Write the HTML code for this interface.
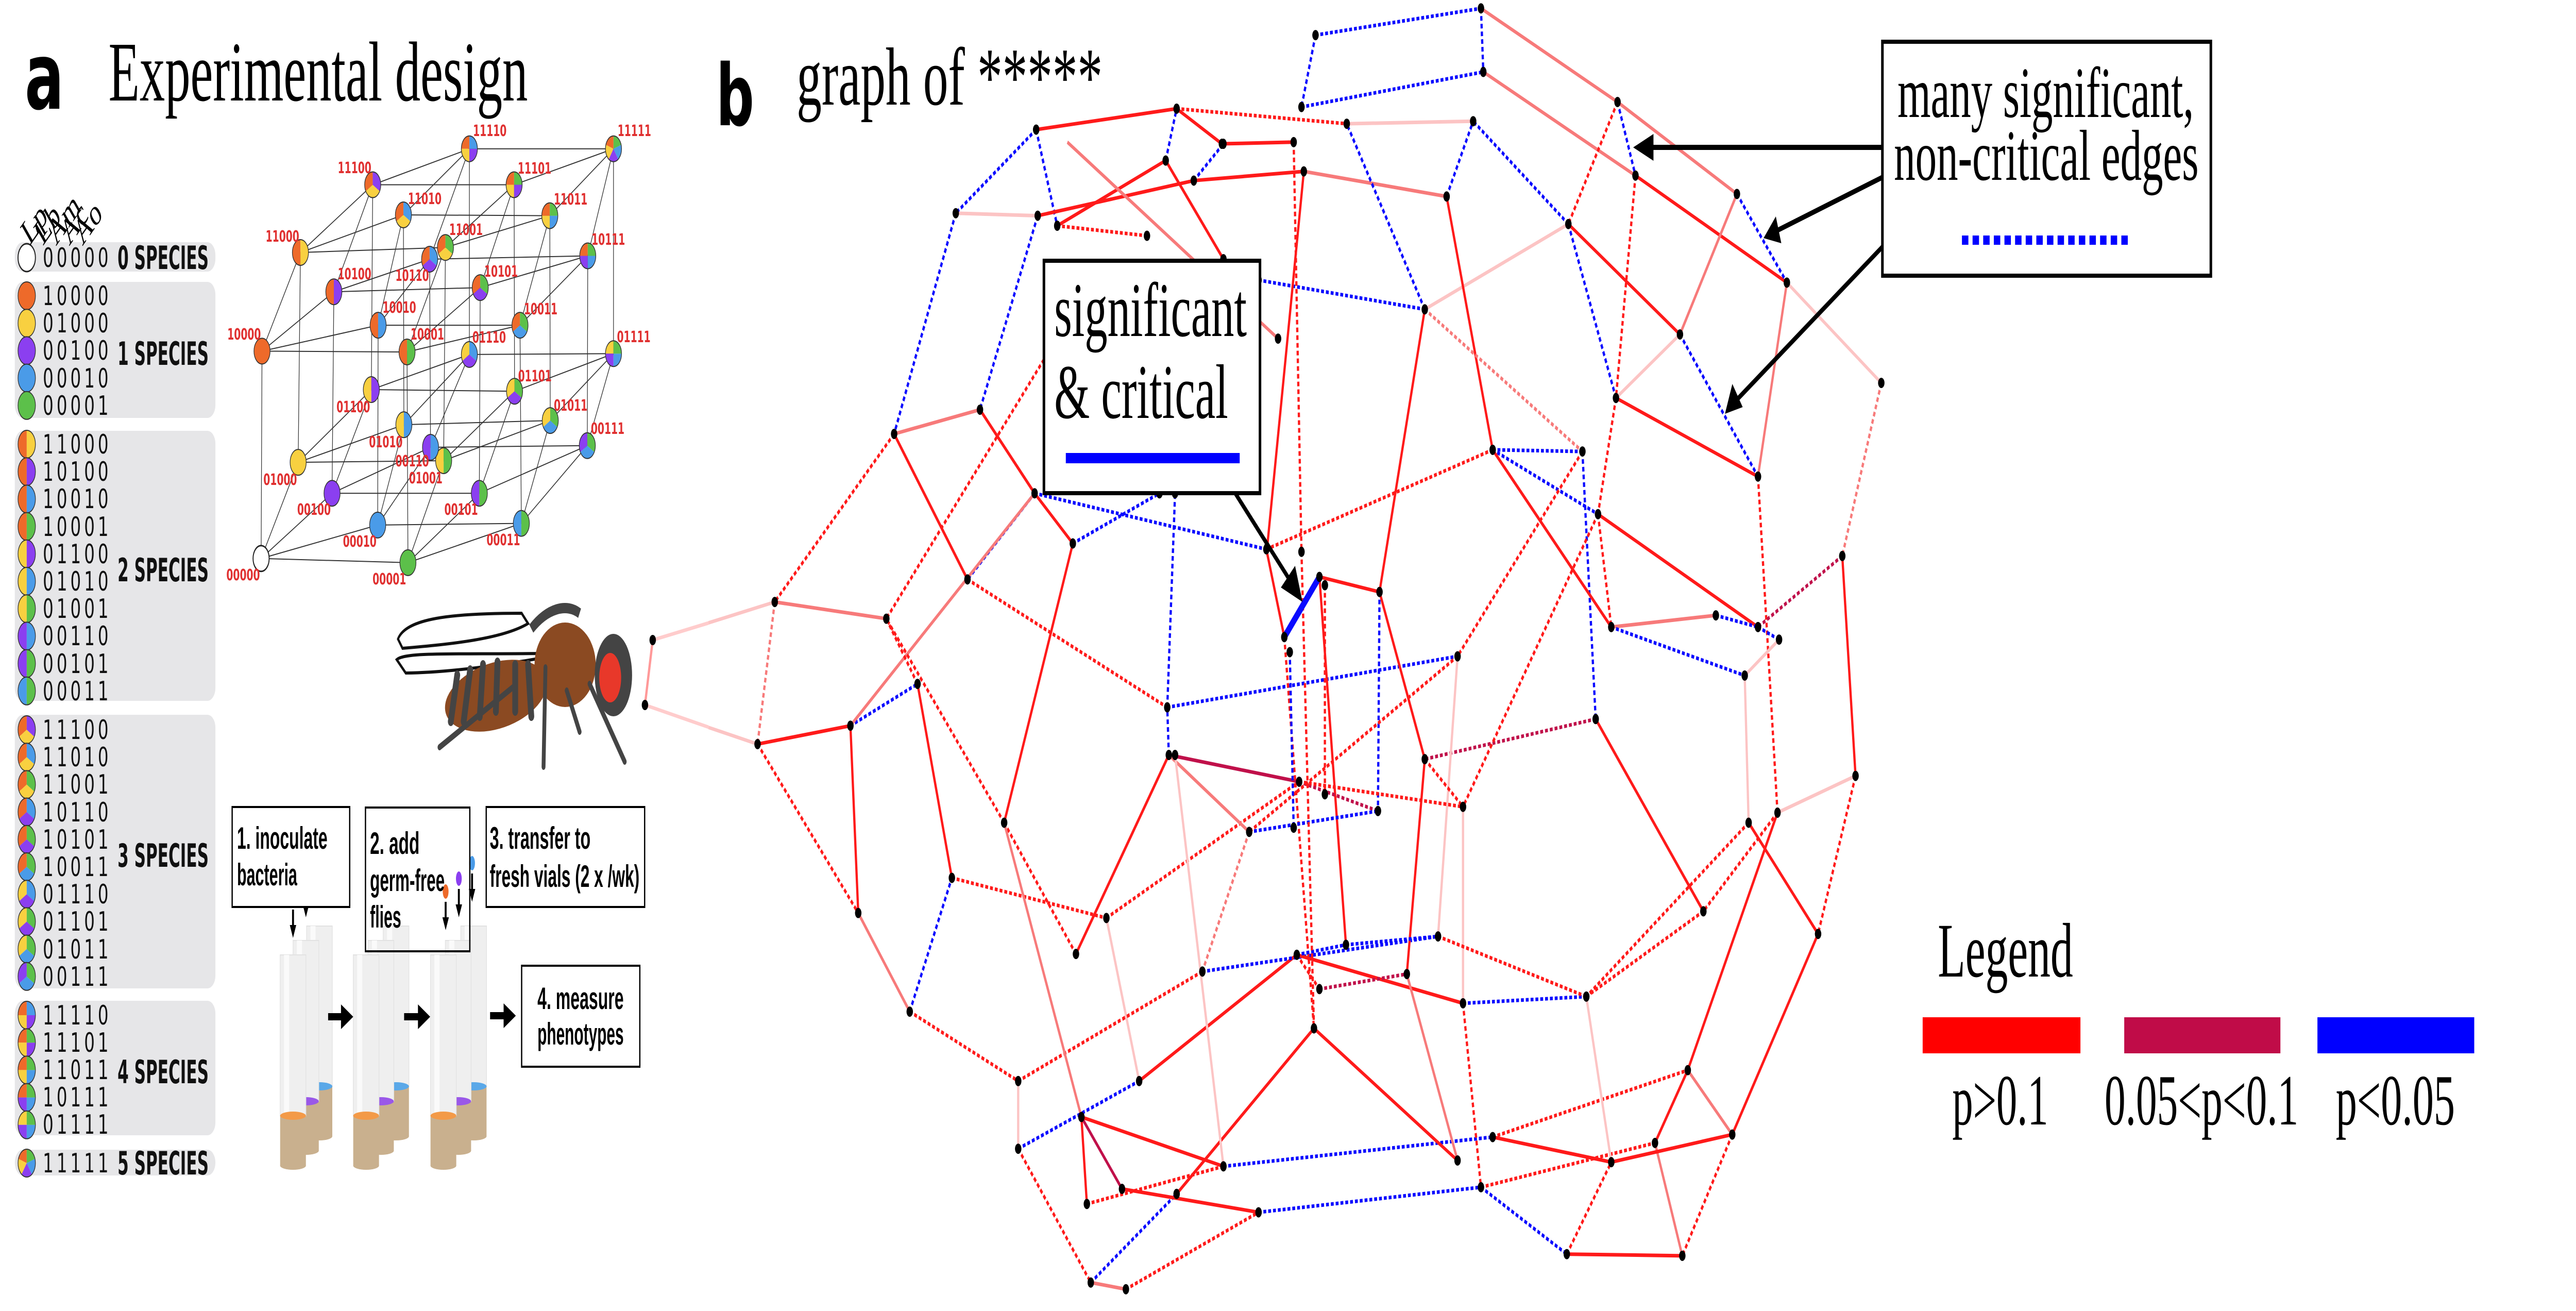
<!DOCTYPE html>
<html><head><meta charset="utf-8"><style>
html,body{margin:0;padding:0;background:#fff;width:100%;height:100%;overflow:hidden;}
svg{display:block;width:100vw;height:100vh;position:absolute;left:0;top:0;}
.sp{font-family:"DejaVu Sans","Liberation Sans",sans-serif;font-weight:bold;font-size:62px;fill:#111;}
.dg{font-family:"DejaVu Sans","Liberation Sans",sans-serif;font-size:52px;fill:#111;}
.cl{font-family:"DejaVu Sans","Liberation Sans",sans-serif;font-weight:bold;font-size:30px;fill:#e03030;}
.bx{font-family:"Liberation Sans",sans-serif;font-weight:bold;font-size:60px;fill:#000;}
.sr{font-family:"Liberation Serif",serif;fill:#000;}
</style></head><body>
<svg id="s" xmlns="http://www.w3.org/2000/svg" viewBox="0 0 8000 2544" preserveAspectRatio="none">
<rect width="8000" height="2544" fill="#fff"/>
<g id="cube"></g>
<g id="graph"></g>
<g id="tbl">
<rect x="46" y="470" width="623" height="57" rx="25" fill="#e6e6e8"/>
<rect x="46" y="547" width="623" height="264" rx="25" fill="#e6e6e8"/>
<rect x="46" y="836" width="623" height="524" rx="25" fill="#e6e6e8"/>
<rect x="46" y="1387" width="623" height="531" rx="25" fill="#e6e6e8"/>
<rect x="46" y="1942" width="623" height="261" rx="25" fill="#e6e6e8"/>
<rect x="46" y="2231" width="623" height="50" rx="25" fill="#e6e6e8"/>
</g>
<g id="pies"></g>
<g class="dg">
<text x="133" y="518" textLength="204" lengthAdjust="spacing">00000</text>
<text x="133" y="592" textLength="204" lengthAdjust="spacing">10000</text>
<text x="133" y="645" textLength="204" lengthAdjust="spacing">01000</text>
<text x="133" y="698" textLength="204" lengthAdjust="spacing">00100</text>
<text x="133" y="752" textLength="204" lengthAdjust="spacing">00010</text>
<text x="133" y="805" textLength="204" lengthAdjust="spacing">00001</text>
<text x="133" y="880" textLength="204" lengthAdjust="spacing">11000</text>
<text x="133" y="933" textLength="204" lengthAdjust="spacing">10100</text>
<text x="133" y="986" textLength="204" lengthAdjust="spacing">10010</text>
<text x="133" y="1040" textLength="204" lengthAdjust="spacing">10001</text>
<text x="133" y="1093" textLength="204" lengthAdjust="spacing">01100</text>
<text x="133" y="1146" textLength="204" lengthAdjust="spacing">01010</text>
<text x="133" y="1199" textLength="204" lengthAdjust="spacing">01001</text>
<text x="133" y="1252" textLength="204" lengthAdjust="spacing">00110</text>
<text x="133" y="1306" textLength="204" lengthAdjust="spacing">00101</text>
<text x="133" y="1359" textLength="204" lengthAdjust="spacing">00011</text>
<text x="133" y="1434" textLength="204" lengthAdjust="spacing">11100</text>
<text x="133" y="1487" textLength="204" lengthAdjust="spacing">11010</text>
<text x="133" y="1540" textLength="204" lengthAdjust="spacing">11001</text>
<text x="133" y="1594" textLength="204" lengthAdjust="spacing">10110</text>
<text x="133" y="1647" textLength="204" lengthAdjust="spacing">10101</text>
<text x="133" y="1700" textLength="204" lengthAdjust="spacing">10011</text>
<text x="133" y="1753" textLength="204" lengthAdjust="spacing">01110</text>
<text x="133" y="1806" textLength="204" lengthAdjust="spacing">01101</text>
<text x="133" y="1860" textLength="204" lengthAdjust="spacing">01011</text>
<text x="133" y="1913" textLength="204" lengthAdjust="spacing">00111</text>
<text x="133" y="1988" textLength="204" lengthAdjust="spacing">11110</text>
<text x="133" y="2041" textLength="204" lengthAdjust="spacing">11101</text>
<text x="133" y="2094" textLength="204" lengthAdjust="spacing">11011</text>
<text x="133" y="2147" textLength="204" lengthAdjust="spacing">10111</text>
<text x="133" y="2200" textLength="204" lengthAdjust="spacing">01111</text>
<text x="133" y="2275" textLength="204" lengthAdjust="spacing">11111</text>
</g>
<g class="sp">
<text x="365" y="522" textLength="283" lengthAdjust="spacingAndGlyphs">0 SPECIES</text>
<text x="365" y="708" textLength="283" lengthAdjust="spacingAndGlyphs">1 SPECIES</text>
<text x="365" y="1128" textLength="283" lengthAdjust="spacingAndGlyphs">2 SPECIES</text>
<text x="365" y="1682" textLength="283" lengthAdjust="spacingAndGlyphs">3 SPECIES</text>
<text x="365" y="2102" textLength="283" lengthAdjust="spacingAndGlyphs">4 SPECIES</text>
<text x="365" y="2279" textLength="283" lengthAdjust="spacingAndGlyphs">5 SPECIES</text>
</g>
<g class="sr" font-size="72">
<text transform="translate(92,478) rotate(-42)">Lp</text>
<text transform="translate(133,478) rotate(-42)">Lb</text>
<text transform="translate(174,478) rotate(-42)">Am</text>
<text transform="translate(215,478) rotate(-42)">Ac</text>
<text transform="translate(256,478) rotate(-42)">Ao</text>
</g>
<text x="77" y="211" font-family="'DejaVu Sans','Liberation Sans',sans-serif" font-weight="bold" font-size="180">a</text>
<text class="sr" x="337" y="195" font-size="165" textLength="1302" lengthAdjust="spacingAndGlyphs">Experimental design</text>
<text x="2224" y="243" font-family="'DejaVu Sans','Liberation Sans',sans-serif" font-weight="bold" font-size="165">b</text>
<text class="sr" x="2474" y="203" font-size="160" textLength="950" lengthAdjust="spacingAndGlyphs">graph of *****</text>
<g class="cl">
<text x="1469" y="264">11110</text><text x="1918" y="264">11111</text>
<text x="1049" y="336">11100</text><text x="1608" y="337">11101</text>
<text x="1267" y="396">11010</text><text x="1720" y="397">11011</text>
<text x="825" y="469">11000</text><text x="1395" y="456">11001</text><text x="1837" y="475">10111</text>
<text x="1049" y="542">10100</text><text x="1228" y="545">10110</text><text x="1504" y="537">10101</text>
<text x="1188" y="607">10010</text><text x="1627" y="610">10011</text>
<text x="706" y="659">10000</text><text x="1275" y="659">10001</text><text x="1467" y="665">01110</text><text x="1916" y="664">01111</text>
<text x="1609" y="740">01101</text><text x="1045" y="800">01100</text><text x="1720" y="797">01011</text>
<text x="1835" y="842">00111</text><text x="1146" y="868">01010</text><text x="1228" y="905">00110</text>
<text x="1270" y="938">01001</text><text x="818" y="941">01000</text><text x="923" y="999">00100</text>
<text x="1380" y="999">00101</text><text x="1065" y="1061">00010</text><text x="1511" y="1058">00011</text>
<text x="703" y="1126">00000</text><text x="1157" y="1134">00001</text>
</g>
<g id="fly">
<path d="M1236,1240 C1260,1200 1400,1190 1620,1190 L1640,1210 C1560,1240 1400,1250 1250,1258 Z" fill="#fff" stroke="#111" stroke-width="6"/>
<path d="M1232,1280 C1260,1265 1400,1270 1690,1268 L1700,1275 C1560,1290 1400,1305 1260,1306 Z" fill="#fff" stroke="#111" stroke-width="6"/>
<ellipse cx="1540" cy="1350" rx="160" ry="65" transform="rotate(-10 1540 1350)" fill="#8b4a22"/>
<g stroke="#444" stroke-width="18" stroke-linecap="round">
<line x1="1420" y1="1310" x2="1400" y2="1400"/><line x1="1460" y1="1300" x2="1440" y2="1400"/>
<line x1="1500" y1="1290" x2="1490" y2="1390"/><line x1="1545" y1="1285" x2="1540" y2="1380"/>
<line x1="1600" y1="1290" x2="1600" y2="1380"/><line x1="1640" y1="1290" x2="1650" y2="1390"/>
</g>
<ellipse cx="1755" cy="1290" rx="95" ry="82" fill="#8b4a22"/>
<path d="M1650,1220 C1700,1180 1760,1170 1800,1190" stroke="#444" stroke-width="20" fill="none"/>
<ellipse cx="1905" cy="1310" rx="58" ry="80" fill="#444"/>
<ellipse cx="1895" cy="1315" rx="34" ry="48" fill="#e8382a"/>
<g stroke="#444" stroke-width="12" stroke-linecap="round" fill="none">
<line x1="1694" y1="1295" x2="1688" y2="1488"/><line x1="1831" y1="1327" x2="1940" y2="1478"/>
<line x1="1365" y1="1450" x2="1600" y2="1330"/><line x1="1760" y1="1340" x2="1800" y2="1420"/>
</g>
</g>
<g id="tubes"></g>
<g fill="#fff" stroke="#000" stroke-width="4">
<rect x="721" y="1566" width="365" height="194"/>
<rect x="1135" y="1567" width="324" height="279" fill="none"/>
<rect x="1510" y="1566" width="492" height="194"/>
<rect x="1620" y="1874" width="367" height="196"/>
</g>
<g class="bx">
<text x="736" y="1647" textLength="281" lengthAdjust="spacingAndGlyphs">1.  inoculate</text>
<text x="736" y="1718" textLength="187" lengthAdjust="spacingAndGlyphs">bacteria</text>
<text x="1149" y="1657" textLength="154" lengthAdjust="spacingAndGlyphs">2.  add</text>
<text x="1149" y="1729" textLength="232" lengthAdjust="spacingAndGlyphs">germ-free</text>
<text x="1149" y="1800" textLength="97" lengthAdjust="spacingAndGlyphs">flies</text>
<text x="1521" y="1647" textLength="313" lengthAdjust="spacingAndGlyphs">3.  transfer to</text>
<text x="1521" y="1721" textLength="465" lengthAdjust="spacingAndGlyphs">fresh vials (2 x /wk)</text>
<text x="1669" y="1958" textLength="268" lengthAdjust="spacingAndGlyphs">4.  measure</text>
<text x="1669" y="2027" textLength="268" lengthAdjust="spacingAndGlyphs">phenotypes</text>
</g>
<rect x="3242" y="506" width="671" height="451" fill="#fff" stroke="#000" stroke-width="8"/>
<text class="sr" x="3274" y="652" font-size="150" textLength="598" lengthAdjust="spacingAndGlyphs">significant</text>
<text class="sr" x="3274" y="811" font-size="150" textLength="540" lengthAdjust="spacingAndGlyphs">&amp; critical</text>
<line x1="3310" y1="889" x2="3850" y2="889" stroke="#0000ff" stroke-width="20"/>
<line x1="3836" y1="957" x2="4010" y2="1130" stroke="#000" stroke-width="10"/>
<polygon points="4045,1168 3978,1140 4022,1098" fill="#000"/>
<rect x="5846" y="81" width="1020" height="454" fill="#fff" stroke="#000" stroke-width="8"/>
<text class="sr" x="5893" y="227" font-size="140" textLength="920" lengthAdjust="spacingAndGlyphs">many significant,</text>
<text class="sr" x="5882" y="349" font-size="140" textLength="946" lengthAdjust="spacingAndGlyphs">non-critical edges</text>
<line x1="6093" y1="466" x2="6616" y2="466" stroke="#0000ff" stroke-width="18" stroke-dasharray="20 13"/>
<g stroke="#000" stroke-width="10">
<line x1="5846" y1="286" x2="5120" y2="286"/>
<line x1="5846" y1="344" x2="5520" y2="447"/>
<line x1="5846" y1="479" x2="5395" y2="775"/>
</g>
<g fill="#000">
<polygon points="5072,286 5135,260 5135,312"/>
<polygon points="5477,462 5515,420 5532,472"/>
<polygon points="5357,803 5380,745 5412,790"/>
</g>
<text class="sr" x="6018" y="1895" font-size="150" textLength="420" lengthAdjust="spacingAndGlyphs">Legend</text>
<rect x="5971" y="1974" width="490" height="70" fill="#ff0000"/>
<rect x="6597" y="1974" width="485" height="70" fill="#c00c48"/>
<rect x="7197" y="1974" width="487" height="70" fill="#0000ff"/>
<g class="sr" font-size="140">
<text x="6063" y="2182" textLength="298" lengthAdjust="spacingAndGlyphs">p&gt;0.1</text>
<text x="6536" y="2182" textLength="602" lengthAdjust="spacingAndGlyphs">0.05&lt;p&lt;0.1</text>
<text x="7254" y="2182" textLength="370" lengthAdjust="spacingAndGlyphs">p&lt;0.05</text>
</g>
</svg>
<script>
(function(){
var NS="http://www.w3.org/2000/svg";
function el(t,a,p){var e=document.createElementNS(NS,t);for(var k in a)e.setAttribute(k,a[k]);p.appendChild(e);return e;}
var COL=["#ee6a2a","#f8d040","#8b3ff0","#4a9be8","#5cc04a"];
function pie(cx,cy,r,code,parent){
  var cs=[];for(var i=0;i<5;i++)if(code[i]=="1")cs.push(COL[i]);
  if(cs.length==0){el("circle",{cx:cx,cy:cy,r:r,fill:"#fff",stroke:"#222","stroke-width":3},parent);return;}
  if(cs.length==1){el("circle",{cx:cx,cy:cy,r:r,fill:cs[0],stroke:"#333","stroke-width":2},parent);return;}
  var n=cs.length;
  for(var j=0;j<n;j++){
    var a0=-Math.PI/2-j*2*Math.PI/n, a1=-Math.PI/2-(j+1)*2*Math.PI/n;
    var d="M"+cx+","+cy+" L"+(cx+r*Math.cos(a0))+","+(cy+r*Math.sin(a0))+" A"+r+","+r+" 0 0 0 "+(cx+r*Math.cos(a1))+","+(cy+r*Math.sin(a1))+" Z";
    el("path",{d:d,fill:cs[j]},parent);
  }
  el("circle",{cx:cx,cy:cy,r:r,fill:"none",stroke:"#333","stroke-width":2},parent);
}
var P=document.getElementById("pies");
var rows=[["00000",500]];
function grp(list,y0){list.forEach(function(c,i){rows.push([c,y0+i*53.2]);});}
grp(["10000","01000","00100","00010","00001"],574);
grp(["11000","10100","10010","10001","01100","01010","01001","00110","00101","00011"],862);
grp(["11100","11010","11001","10110","10101","10011","01110","01101","01011","00111"],1416);
grp(["11110","11101","11011","10111","01111"],1970);
rows.push(["11111",2257]);
rows.forEach(function(r){pie(83,r[1],27,r[0],P);});
var C={"00000":[578,668],"10000":[580,420],"01000":[660,553],"00100":[735,590],"00010":[836,628],"00001":[903,673],
"11000":[665,302],"10100":[739,349],"10010":[837,389],"10001":[901,421],"01100":[822,466],"01010":[894,508],
"01001":[982,551],"00110":[953,535],"00101":[1061,590],"00011":[1154,626],"11100":[825,221],"11010":[893,257],
"11001":[986,296],"10110":[951,310],"10101":[1063,344],"10011":[1151,389],"01110":[1039,424],"01101":[1139,468],
"01011":[1218,503],"00111":[1300,533],"11110":[1039,178],"11101":[1138,221],"11011":[1217,258],"10111":[1301,306],
"01111":[1358,423],"11111":[1358,178]};
var G=document.getElementById("cube");
function cp(k){return [C[k][0]*1.403,C[k][1]*1.6224];}
Object.keys(C).forEach(function(k){
  for(var i=0;i<5;i++){ if(k[i]=="0"){var k2=k.substr(0,i)+"1"+k.substr(i+1);
    var a=cp(k),b=cp(k2);el("line",{x1:a[0],y1:a[1],x2:b[0],y2:b[1],stroke:"#333","stroke-width":2},G);}}
});
Object.keys(C).forEach(function(k){var a=cp(k);pie(a[0],a[1],25,k,G);});
var E=[[778,42,990,10,'B'],[990,10,993,86,'B'],[778,42,760,128,'B'],[760,128,993,86,'B'],
[990,10,1165,122,'P'],[993,86,1188,210,'P'],[1165,122,1318,232,'P'],[1165,122,1188,210,'B'],
[1188,210,1382,338,'R'],[1318,232,1382,338,'B'],[1318,232,1245,400,'P'],[1382,338,1503,458,'L'],
[1382,338,1345,570,'P'],[1503,458,1453,665,'p'],[1245,400,1345,570,'B'],[1245,400,1102,268,'R'],
[1102,268,980,145,'B'],[1102,268,918,370,'L'],[1165,122,1102,268,'r'],[1188,210,1163,476,'r'],
[1163,476,1345,570,'R'],[1163,476,1245,400,'L'],[1163,476,1140,615,'r'],[1102,268,1163,476,'B'],
[1005,538,1140,615,'B'],[1120,540,1137,860,'B'],[1120,540,960,785,'r'],[1140,615,1345,750,'R'],
[1345,570,1370,972,'r'],[1453,665,1345,750,'m'],[1453,665,1470,928,'R'],[1470,928,1370,972,'L'],
[1470,928,1422,1117,'r'],[1345,750,1372,765,'B'],[1291,736,1157,750,'P'],[1291,736,1345,750,'B'],
[1157,750,1328,808,'B'],[1157,750,1005,538,'R'],[1328,808,1372,765,'L'],[1328,808,1333,984,'L'],
[1333,984,1422,1117,'R'],[1333,984,1125,1192,'r'],[1370,972,1275,1090,'r'],[1370,972,1255,1280,'R'],
[1137,860,1275,1090,'R'],[1137,860,918,908,'m'],[1140,615,967,965,'r'],
[420,155,600,130,'R'],[600,130,818,148,'r'],[818,148,980,145,'L'],[600,130,658,172,'R'],[658,172,750,170,'R'],
[420,155,317,255,'B'],[420,155,447,270,'B'],[317,255,422,258,'L'],[317,255,238,519,'B'],
[447,270,586,192,'R'],[586,192,660,310,'R'],[586,192,600,130,'B'],[447,270,562,282,'r'],
[622,216,763,205,'R'],[763,205,946,235,'P'],[946,235,980,145,'B'],[946,235,1005,538,'R'],
[918,370,818,148,'B'],[918,370,860,708,'R'],[918,370,1120,540,'p'],[918,370,705,335,'B'],
[763,205,716,655,'R'],[750,170,760,660,'r'],[422,258,622,216,'R'],[622,216,660,172,'B'],
[422,258,348,490,'B'],[238,519,348,490,'P'],[238,519,332,693,'R'],[238,519,85,720,'r'],
[348,490,418,590,'R'],[430,430,228,740,'r'],[418,590,467,650,'R'],[418,590,332,693,'B'],
[418,590,715,657,'B'],[467,650,578,590,'B'],[467,650,379,984,'R'],[332,693,588,846,'r'],
[85,720,228,740,'P'],[85,720,63,890,'p'],[0,745,85,720,'L'],[0,870,63,890,'L'],
[63,890,182,868,'R'],[182,868,268,818,'B'],[182,868,192,1092,'R'],[182,868,418,590,'P'],
[268,818,228,740,'r'],[268,818,312,1050,'R'],[63,890,192,1092,'r'],[192,1092,258,1210,'P'],
[258,1210,312,1050,'B'],[258,1210,397,1293,'r'],[312,1050,510,1098,'r'],[379,984,228,740,'r'],
[379,984,471,1141,'r'],[471,1141,590,903,'R'],[510,1098,757,935,'r'],[510,1098,552,1293,'L'],
[590,903,757,935,'M'],[590,903,588,846,'B'],[588,846,960,785,'B'],[588,846,598,590,'B'],
[590,903,693,995,'P'],[397,1293,633,1162,'r'],[397,1293,397,1374,'L'],[397,1374,552,1293,'B'],
[397,1374,490,1534,'r'],[490,1534,600,1428,'B'],[490,1534,535,1542,'P'],[535,1542,705,1450,'r'],
[478,1336,530,1422,'M'],[478,1336,660,1395,'R'],[478,1336,485,1440,'R'],[379,984,478,1336,'P'],
[485,1440,660,1395,'r'],[530,1422,705,1450,'R'],[600,1428,776,1230,'R'],[552,1293,754,1142,'R'],
[633,1162,935,1120,'B'],[598,903,660,1395,'L'],[660,1395,1005,1360,'B'],[705,1450,990,1420,'B'],
[754,1142,967,1200,'R'],[776,1230,960,1388,'R'],[967,1200,1125,1192,'B'],[967,1200,967,965,'L'],
[967,1200,990,1420,'r'],[960,1388,895,1165,'P'],[990,1420,1100,1500,'B'],[1100,1500,1248,1502,'R'],
[1100,1500,1157,1390,'r'],[1248,1502,1213,1367,'P'],[1213,1367,1255,1280,'R'],[1255,1280,1312,1357,'P'],
[1312,1357,1422,1117,'R'],[1312,1357,1248,1502,'r'],[1157,1390,1312,1357,'R'],[1005,1360,1157,1390,'R'],
[1005,1360,1255,1280,'r'],[990,1420,1213,1367,'r'],[1125,1192,1157,1390,'L'],
[935,1120,1125,1192,'r'],[935,1120,960,785,'L'],[918,908,967,965,'r'],[918,908,860,708,'R'],
[918,908,895,1165,'R'],[860,708,783,690,'R'],[860,708,858,970,'B'],[783,690,817,1130,'R'],
[738,762,776,1230,'r'],[738,762,715,657,'R'],[757,935,858,970,'m'],[693,995,858,970,'B'],
[693,995,633,1162,'p'],[754,1142,817,1130,'B'],[817,1130,935,1120,'B'],[783,1183,895,1165,'m'],
[715,657,1005,538,'r'],[960,785,693,995,'r'],[757,935,967,965,'r'],[460,170,730,405,'P'],
[1005,538,1120,540,'B'],[1140,615,1157,750,'r'],[1275,1090,1125,1192,'r'],
[745,780,750,990,'B'],[790,700,790,950,'r'],[760,660,776,1230,'r'],[754,1142,783,1183,'r'],
[738,762,783,690,'X']];
var ST={R:["#ff1a1a",7,0],r:["#ff1a1a",7,1],P:["#f77a7a",7,0],p:["#f77a7a",7,1],L:["#fcc4c4",7,0],
B:["#0a0aff",7,1],M:["#c0104a",7,0],m:["#c0104a",7,1],X:["#0a0aff",15,0]};
var GR=document.getElementById("graph");
function T(x,y){return [2200+x*2.4235,y*1.6224];}
var pts={};
E.forEach(function(e){var a=T(e[0],e[1]),b=T(e[2],e[3]),s=ST[e[4]];
  var at={x1:a[0],y1:a[1],x2:b[0],y2:b[1],stroke:s[0],"stroke-width":s[1]};
  if(s[2])at["stroke-dasharray"]="9 6";
  el("line",at,GR);
  if(e[0]>0)pts[e[0]+","+e[1]]=a; if(e[2]>0)pts[e[2]+","+e[3]]=b;});
el("line",{x1:2027,y1:1242,x2:2003,y2:1368,stroke:"#f99","stroke-width":7},GR);
el("line",{x1:2027,y1:1242,x2:2200,y2:1209,stroke:"#fcc","stroke-width":7},GR);
el("line",{x1:2003,y1:1368,x2:2200,y2:1411,stroke:"#fcc","stroke-width":7},GR);
pts.f1=[2027,1242];pts.f2=[2003,1368];
delete pts["430,430"];delete pts["460,170"];
Object.keys(pts).forEach(function(k){el("circle",{cx:pts[k][0],cy:pts[k][1],r:10,fill:"#000"},GR);});
var TB=document.getElementById("tubes");
var groups=[[870,910,952],[1097,1143,1190],[1337,1383,1431]];
var tops=[1853,1825,1797], tan=[2165,2137,2108], bot=[2262,2233,2205], topc=["#f39a48","#9a58e8","#5aa8e8"];
groups.forEach(function(g){
  for(var i=2;i>=0;i--){var x=g[i],w=80;
    el("rect",{x:x,y:tops[i],width:w,height:tan[i]-tops[i],fill:"#efefef",stroke:"#e2e2e2","stroke-width":2},TB);
    el("rect",{x:x+12,y:tops[i],width:16,height:tan[i]-tops[i],fill:"#fafafa"},TB);
    el("rect",{x:x,y:tan[i],width:w,height:bot[i]-tan[i],fill:"#c9b08e"},TB);
    el("ellipse",{cx:x+w/2,cy:tan[i],rx:w/2,ry:8,fill:topc[i]},TB);
    el("ellipse",{cx:x+w/2,cy:bot[i],rx:w/2,ry:8,fill:"#c9b08e"},TB);
  }});
[[1019,1097,1973],[1255,1336,1973],[1522,1602,1971]].forEach(function(a){
  el("line",{x1:a[0],y1:a[2],x2:a[1]-30,y2:a[2],stroke:"#000","stroke-width":14},TB);
  el("polygon",{points:(a[1])+","+a[2]+" "+(a[1]-38)+","+(a[2]-24)+" "+(a[1]-38)+","+(a[2]+24),fill:"#000"},TB);});
[[910,1785,"#ee6a2a"],[950,1745,"#8b3ff0"],[992,1720,"#4a9be8"],[1384,1770,"#ee6a2a"],[1425,1745,"#8b3ff0"],[1466,1715,"#4a9be8"]].forEach(function(a){
  el("ellipse",{cx:a[0],cy:a[1]-40,rx:9,ry:14,fill:a[2]},TB);
  el("line",{x1:a[0],y1:a[1]-20,x2:a[0],y2:a[1]+20,stroke:"#000","stroke-width":6},TB);
  el("polygon",{points:(a[0]-10)+","+(a[1]+10)+" "+(a[0]+10)+","+(a[1]+10)+" "+a[0]+","+(a[1]+35),fill:"#000"},TB);});
})();
</script>
</body></html>
